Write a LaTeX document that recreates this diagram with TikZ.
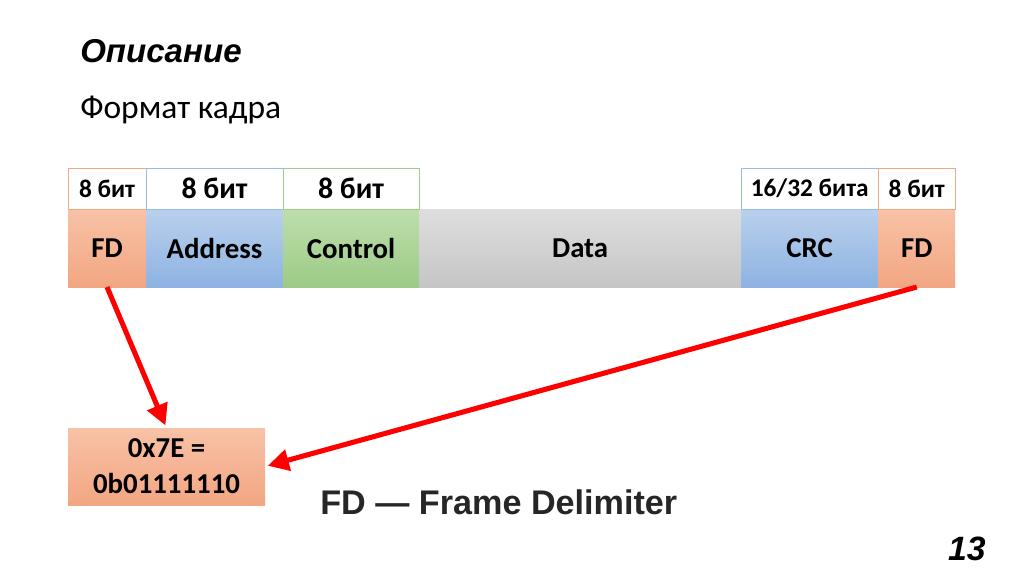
\documentclass[tikz,border=0pt]{standalone}
\usepackage{fontspec}
\setmainfont{Carlito}
\newfontfamily\arialfont{Liberation Sans}
\usetikzlibrary{positioning,arrows.meta}

\definecolor{fdtop}{RGB}{248,194,166}
\definecolor{fdbot}{RGB}{242,166,130}
\definecolor{fdline}{RGB}{240,170,130}
\definecolor{bltop}{RGB}{186,208,237}
\definecolor{blbot}{RGB}{141,179,226}
\definecolor{blline}{RGB}{150,188,228}
\definecolor{grtop}{RGB}{190,222,172}
\definecolor{grbot}{RGB}{156,203,134}
\definecolor{grline}{RGB}{160,204,136}
\definecolor{dttop}{RGB}{222,222,222}
\definecolor{dtbot}{RGB}{197,197,197}
\definecolor{legendgray}{RGB}{38,38,38}

\begin{document}
\begin{tikzpicture}[x=0.025cm,y=-0.025cm]
\tikzstyle{field}=[rectangle,inner sep=0pt,outer sep=0pt,minimum height=1.95cm,font=\fontsize{20.5}{24}\selectfont\bfseries]
\tikzstyle{bits}=[rectangle,draw,line width=0.7pt,fill=white,inner sep=0pt,outer sep=0pt,minimum height=1.025cm,font=\fontsize{21.2}{24}\selectfont\bfseries]
\tikzstyle{smallbits}=[bits,font=\fontsize{18}{21}\selectfont\bfseries]
\tikzstyle{redarrow}=[draw=red,line width=3.6pt,-{Triangle[length=15pt,width=15pt]},shorten >=2pt]
\useasboundingbox (0,0) rectangle (1024,574);

% headings
\node[anchor=base west,inner sep=0pt,font=\arialfont\bfseries\itshape\fontsize{23.5}{28}\selectfont] (title) at (80,62) {Описание};
\node[anchor=base west,inner sep=0pt,font=\fontsize{23.8}{28}\selectfont] (subtitle) at (80,118) {Формат кадра};

% frame fields
\node[field,anchor=north west,top color=fdtop,bottom color=fdbot,minimum width=1.95cm] (fdA) at (68,209) {FD};
\node[field,top color=bltop,bottom color=blbot,minimum width=3.425cm,right=0pt of fdA] (addr) {Address};
\node[field,top color=grtop,bottom color=grbot,minimum width=3.4cm,right=0pt of addr] (ctrl) {Control};
\node[field,top color=dttop,bottom color=dtbot,minimum width=8.05cm,right=0pt of ctrl] (data) {Data};
\node[field,top color=bltop,bottom color=blbot,minimum width=3.425cm,right=0pt of data] (crc) {CRC};
\node[field,top color=fdtop,bottom color=fdbot,minimum width=1.925cm,right=0pt of crc] (fdB) {FD};

% sizes
\node[smallbits,draw=fdline,minimum width=1.95cm,above=0pt of fdA] (fdAbits) {8 бит};
\node[bits,draw=blline,minimum width=3.425cm,above=0pt of addr] (addrbits) {8 бит};
\node[bits,draw=grline,minimum width=3.4cm,above=0pt of ctrl] (ctrlbits) {8 бит};
\node[smallbits,draw=blline,minimum width=3.425cm,above=0pt of crc] (crcbits) {16/32 бита};
\node[smallbits,draw=fdline,minimum width=1.925cm,above=0pt of fdB] (fdBbits) {8 бит};

% flag value
\node[field,anchor=north west,top color=fdtop,bottom color=fdbot,minimum width=4.925cm,minimum height=1.925cm,align=center,font=\fontsize{20.5}{25.5}\selectfont\bfseries] (flag) at (68,428) {0x7E =\\0b01111110};

\draw[redarrow] (fdA.south) -- (flag.north);
\draw[redarrow] (fdB.south) -- (flag.east);

% legend
\node[anchor=base west,inner sep=0pt,text=legendgray,font=\arialfont\bfseries\fontsize{24.3}{29}\selectfont] (legend) at (320,514) {FD — Frame Delimiter};
\node[anchor=base east,inner sep=0pt,font=\arialfont\bfseries\itshape\fontsize{24}{29}\selectfont] (pagenum) at (986,560) {13};
\end{tikzpicture}
\end{document}
